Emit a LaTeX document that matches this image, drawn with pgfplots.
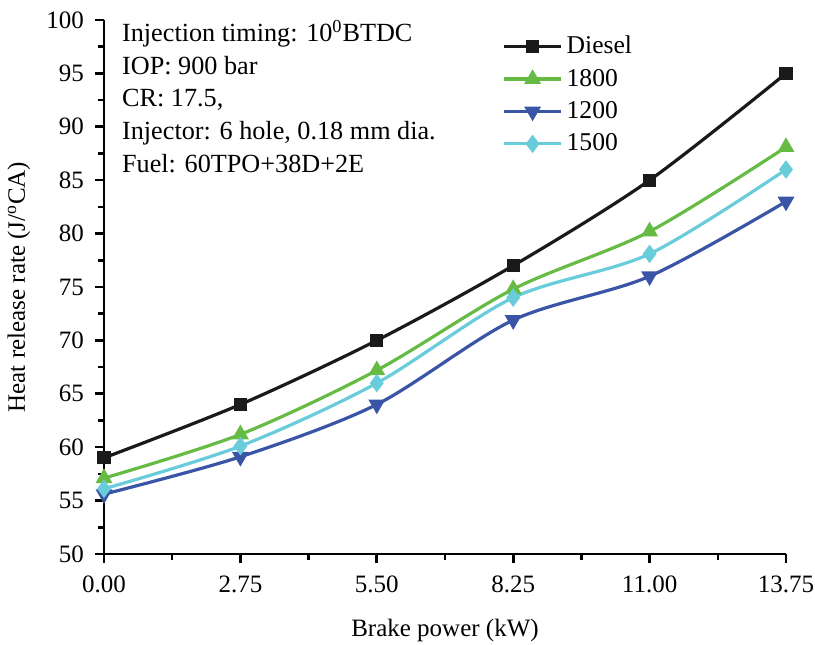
\documentclass[border=0pt]{standalone}
\usepackage{pgfplots}
\pgfplotsset{compat=1.18}
\usepackage{fontspec}
\setmainfont{Liberation Serif}
\definecolor{cdiesel}{HTML}{1A1A1A}
\definecolor{cgreen}{HTML}{66BB44}
\definecolor{cblue}{HTML}{3A55A6}
\definecolor{ccyan}{HTML}{68CCDA}
\begin{document}
\begin{tikzpicture}
\begin{axis}[
  scale only axis,
  width=341pt, height=267pt,
  xmin=0, xmax=13.75, ymin=50, ymax=100,
  axis lines*=left,
  axis line style={line width=1.3pt},
  xtick={0,2.75,5.5,8.25,11,13.75},
  ytick={50,55,...,100},
  minor x tick num=1, minor y tick num=1,
  tick align=outside,
  major tick length=4.5pt, minor tick length=3pt,
  tick style={line width=1.3pt, black},
  xticklabel style={/pgf/number format/fixed, /pgf/number format/fixed zerofill, /pgf/number format/precision=2, inner xsep=0.3pt, yshift=-3pt},
  yticklabel style={xshift=-2pt},
  /pgf/number format/assume math mode=true,
  tick label style={font=\fontsize{12.5}{14}\selectfont},
  label style={font=\fontsize{12.5}{14}\selectfont},
  xlabel={Brake power (kW)},
  ylabel={Heat release rate (J/\textsuperscript{o}CA)},
  xlabel style={yshift=-6pt},
  ylabel style={yshift=1.3pt},
  clip=false,
  legend style={at={(rel axis cs:0.575,0.986)}, anchor=north west, draw=none, fill=none,
    font=\fontsize{12.8}{14}\selectfont, row sep=2.2pt},
  legend cell align=left,
  legend image code/.code={
    \draw[mark repeat=2,mark phase=2,#1] plot coordinates {(0cm,0cm) (0.5cm,0cm) (1.0cm,0cm)};
  },
]
\addplot[cdiesel, line width=1.6pt, smooth, tension=0.5, mark=square*, mark size=2.5pt, mark options={solid}]
 coordinates {(0,59) (2.75,64) (5.5,70) (8.25,77) (11,85) (13.75,95)};
\addlegendentry{Diesel}
\addplot[cgreen, line width=1.6pt, smooth, tension=0.5, mark=triangle*, mark size=3.3pt]
 coordinates {(0,57.1) (2.75,61.2) (5.5,67.2) (8.25,74.8) (11,80.2) (13.75,88.1)};
\addlegendentry{1800}
\addplot[cblue, line width=1.6pt, smooth, tension=0.5, mark=triangle*, mark size=3.3pt, mark options={rotate=180}]
 coordinates {(0,55.6) (2.75,59.1) (5.5,64) (8.25,71.9) (11,76) (13.75,83)};
\addlegendentry{1200}
\addplot[ccyan, line width=1.6pt, smooth, tension=0.5, mark=diamond*, mark size=3.3pt]
 coordinates {(0,56.1) (2.75,60.1) (5.5,66) (8.25,74) (11,78.1) (13.75,86)};
\addlegendentry{1500}
\node[anchor=north west, align=left, font=\fontsize{13.1}{16.4}\selectfont, inner sep=0pt]
  at (rel axis cs:0.026,1.0)
  {Injection timing: 10\textsuperscript{0}BTDC\\IOP: 900 bar\\CR: 17.5,\\Injector: 6 hole, 0.18 mm dia.\\Fuel: 60TPO+38D+2E};
\coordinate (ll) at (rel axis cs:0,0);
\coordinate (ur) at (rel axis cs:1,1);
\end{axis}
\pgfresetboundingbox
\path ([xshift=-52pt,yshift=-45.5pt]ll) rectangle ([xshift=14.5pt,yshift=10pt]ur);
\end{tikzpicture}
\end{document}
